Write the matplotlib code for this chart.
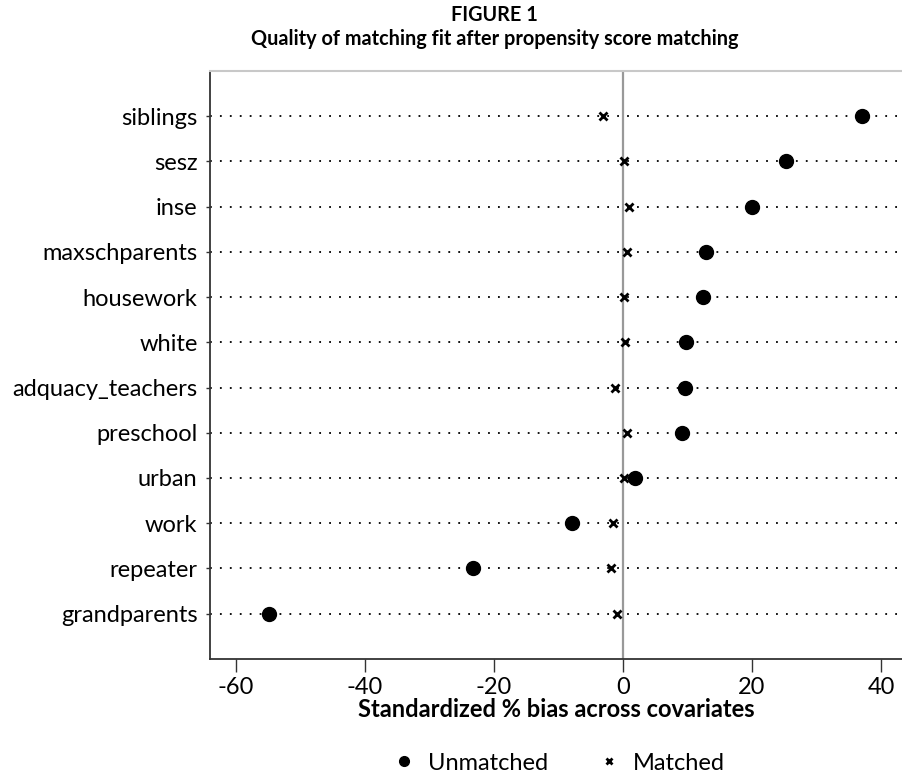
import matplotlib
matplotlib.use('Agg')
from matplotlib import pyplot as plt
from matplotlib.lines import Line2D

plt.rcParams['font.family'] = ['Lato', 'DejaVu Sans']

covariates = ['siblings', 'sesz', 'inse', 'maxschparents', 'housework', 'white',
              'adquacy_teachers', 'preschool', 'urban', 'work', 'repeater', 'grandparents']
unmatched = [37.0, 25.3, 20.0, 12.8, 12.4, 9.7, 9.6, 9.2, 1.9, -7.9, -23.3, -54.9]
matched = [-3.1, 0.2, 0.9, 0.6, 0.1, 0.3, -1.2, 0.6, 0.2, -1.5, -1.9, -0.9]
xticks = [-60, -40, -20, 0, 20, 40]

n = len(covariates)
ypos = [n - i for i in range(n)]

fig = plt.figure(figsize=(9.03, 7.78), dpi=100)
ax = fig.add_axes([0.2326, 0.153, 0.7674, 0.756])

for y in ypos:
    ax.axhline(y, color='black', linestyle=(0, (1, 4.5)), linewidth=1.3, zorder=1)
ax.axvline(0, color='#999999', linewidth=1.6, zorder=2)

ax.plot(unmatched, ypos, 'o', color='black', markersize=10, linestyle='none', zorder=3)
ax.plot(matched, ypos, 'x', color='black', markersize=6, markeredgewidth=2, linestyle='none', zorder=3)

ax.set_xlim(-64, 43.4)
ax.set_ylim(0, n + 1)
ax.set_yticks(ypos)
ax.set_yticklabels(covariates, fontsize=17)
ax.set_xticks(xticks)
ax.set_xticklabels([str(t) for t in xticks], fontsize=17)
ax.tick_params(axis='x', length=9, width=1, color='#333333', pad=4)
ax.tick_params(axis='y', length=3, width=1, color='#333333', pad=6)

ax.spines['right'].set_visible(False)
ax.spines['top'].set_color('#c8c8c8')
ax.spines['top'].set_linewidth(1.5)
ax.spines['left'].set_color('#333333')
ax.spines['bottom'].set_color('#333333')
ax.spines['left'].set_linewidth(1.3)
ax.spines['bottom'].set_linewidth(1.3)

ax.set_xlabel('Standardized % bias across covariates', fontsize=17, fontweight='bold', labelpad=0)

handles = [Line2D([], [], marker='o', color='black', linestyle='none', markersize=7),
           Line2D([], [], marker='x', color='black', linestyle='none', markersize=5, markeredgewidth=2)]
fig.legend(handles, ['Unmatched', 'Matched'], loc='center', bbox_to_anchor=(0.62, 0.019),
           ncol=2, frameon=False, fontsize=17, handlelength=0.8, handletextpad=0.6, columnspacing=2.2)

fig.text(0.548, 0.981, 'FIGURE 1', ha='center', va='center', fontsize=14.3, fontweight='bold')
fig.text(0.548, 0.950, 'Quality of matching fit after propensity score matching', ha='center', va='center',
         fontsize=14.3, fontweight='bold')

fig.savefig('out.png', dpi=100)
